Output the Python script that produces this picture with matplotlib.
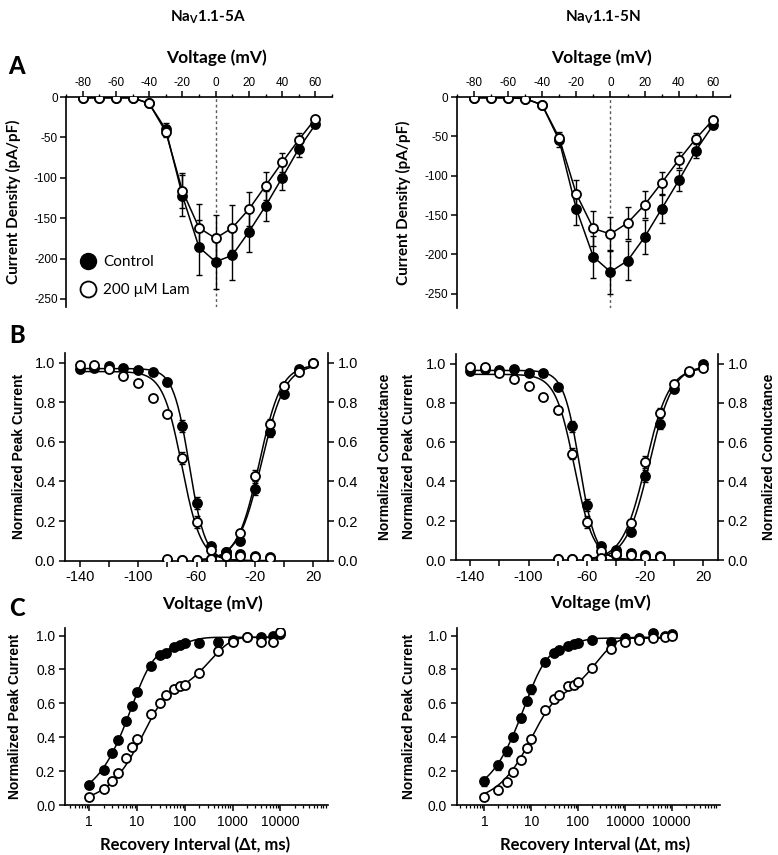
import numpy as np
import matplotlib
matplotlib.use("Agg")
import matplotlib.pyplot as plt
from matplotlib.lines import Line2D
from matplotlib.ticker import MultipleLocator, FixedLocator, FixedFormatter, LogLocator, NullFormatter

plt.rcParams['font.family'] = ['Liberation Sans', 'DejaVu Sans']
plt.rcParams['mathtext.fontset'] = 'custom'
plt.rcParams['mathtext.rm'] = 'Lato:bold'
plt.rcParams['mathtext.it'] = 'Lato:bold'
plt.rcParams['mathtext.bf'] = 'Lato:bold'

LAB = dict(family=['Lato', 'DejaVu Sans'], fontweight='bold')
ARIAL_B = dict(family=['Liberation Sans', 'DejaVu Sans'], fontweight='bold')

# ---------------- Panel A: current-voltage ----------------
iv_v = [-80, -70, -60, -50, -40, -30, -20, -10, 0, 10, 20, 30, 40, 50, 60]

iv_5a_ctrl = [-1, -1, -1, -1, -8, -40, -122, -186, -204, -196, -167, -135, -100, -64, -34]
iv_5a_ctrl_err = [0.5, 0.5, 0.5, 0.5, 1, 8, 25, 34, 34, 31, 25, 19, 15, 10, 4]
iv_5a_lam = [-1, -1, -1, -1, -8, -43, -116, -162, -175, -162, -139, -110, -81, -53, -27]
iv_5a_lam_err = [0.5, 0.5, 0.5, 0.5, 1, 7, 22, 29, 29, 28, 21, 17, 12, 8, 3]

iv_5n_ctrl = [-1, -1, -1, -2, -10, -55, -142, -203, -222, -208, -178, -142, -106, -68, -36]
iv_5n_ctrl_err = [0.5, 0.5, 0.5, 0.5, 1, 8, 21, 27, 28, 25, 22, 18, 13, 9, 4]
iv_5n_lam = [-1, -1, -1, -2, -10, -52, -123, -167, -174, -160, -137, -109, -80, -53, -29]
iv_5n_lam_err = [0.5, 0.5, 0.5, 0.5, 1, 7, 17, 22, 22, 20, 17, 14, 10, 7, 3]

# ---------------- Panel B: inactivation / activation ----------------
inact_v = [-140, -130, -120, -110, -100, -90, -80, -70, -60, -50, -40, -30, -20, -10]
act_v = [-80, -70, -60, -50, -40, -30, -20, -10, 0, 10, 20]

inact_5a_ctrl = [0.97, 0.975, 0.985, 0.975, 0.963, 0.954, 0.90, 0.68, 0.29, 0.075, 0.045, 0.035, 0.024, 0.018]
inact_5a_lam = [0.99, 0.988, 0.966, 0.93, 0.895, 0.82, 0.74, 0.52, 0.195, 0.054, 0.025, 0.024, 0.017, 0.015]
act_5a_ctrl = [0.004, 0.004, 0.005, 0.008, 0.046, 0.10, 0.36, 0.65, 0.84, 0.966, 1.0]
act_5a_lam = [0.007, 0.006, 0.006, 0.01, 0.025, 0.14, 0.43, 0.69, 0.88, 0.955, 1.0]

inact_5n_ctrl = [0.96, 0.97, 0.966, 0.97, 0.954, 0.95, 0.88, 0.68, 0.28, 0.07, 0.045, 0.034, 0.024, 0.02]
inact_5n_lam = [0.983, 0.98, 0.95, 0.92, 0.886, 0.83, 0.763, 0.542, 0.193, 0.048, 0.026, 0.026, 0.017, 0.014]
act_5n_ctrl = [0.003, 0.004, 0.005, 0.008, 0.05, 0.145, 0.426, 0.69, 0.872, 0.955, 1.0]
act_5n_lam = [0.003, 0.004, 0.005, 0.009, 0.03, 0.19, 0.5, 0.75, 0.895, 0.96, 0.975]

inact_err = [0.005, 0.005, 0.005, 0.008, 0.01, 0.012, 0.015, 0.03, 0.03, 0.01, 0.005, 0.005, 0.005, 0.005]
act_err = [0.002, 0.002, 0.002, 0.002, 0.005, 0.01, 0.03, 0.025, 0.015, 0.01, 0.005]

# Boltzmann fit parameters (amplitude, V1/2, slope)
fit_inact_5a_ctrl = (0.97, -65.0, 5.5)
fit_inact_5a_lam = (0.955, -70.0, 6.5)
fit_act_5a_ctrl = (0.99, -15.5, 8.0)
fit_act_5a_lam = (0.99, -17.0, 7.5)
fit_inact_5n_ctrl = (0.965, -65.0, 5.5)
fit_inact_5n_lam = (0.945, -68.5, 6.5)
fit_act_5n_ctrl = (0.99, -17.0, 8.0)
fit_act_5n_lam = (0.98, -19.5, 8.0)

# ---------------- Panel C: recovery from inactivation ----------------
rec_t = [1, 2, 3, 4, 6, 8, 10, 20, 30, 40, 60, 80, 100, 200, 500, 1000, 2000, 4000, 7000, 10000]

rec_5a_ctrl = [0.118, 0.207, 0.305, 0.384, 0.498, 0.585, 0.67, 0.82, 0.886, 0.90, 0.93, 0.945, 0.955,
               0.955, 0.96, 0.975, 0.99, 0.99, 1.0, 1.008]
rec_5a_lam = [0.05, 0.093, 0.144, 0.187, 0.276, 0.34, 0.388, 0.537, 0.60, 0.65, 0.683, 0.705, 0.71,
              0.78, 0.91, 0.965, 0.99, 0.965, 0.965, 1.02]
rec_5n_ctrl = [0.139, 0.234, 0.317, 0.40, 0.515, 0.614, 0.683, 0.846, 0.90, 0.915, 0.937, 0.95, 0.954,
               0.974, 0.964, 0.984, 0.985, 1.016, 0.995, 1.01]
rec_5n_lam = [0.046, 0.089, 0.135, 0.192, 0.267, 0.337, 0.39, 0.56, 0.624, 0.648, 0.703, 0.707, 0.727,
              0.806, 0.92, 0.96, 0.976, 0.984, 0.99, 0.996]
rec_5a_err = [0.01] * 20
rec_5n_err = [0.025, 0.025, 0.025, 0.025, 0.025, 0.025, 0.025, 0.015, 0.01, 0.01, 0.01, 0.01, 0.01,
              0.01, 0.01, 0.01, 0.01, 0.01, 0.01, 0.01]

# bi-exponential fit parameters (plateau, a1, tau1, a2, tau2)
fit_rec_5a_ctrl = (0.99, 0.85, 7.5, 0.12, 80.0)
fit_rec_5a_lam = (0.99, 0.62, 13.0, 0.365, 350.0)
fit_rec_5n_ctrl = (0.985, 0.82, 7.0, 0.125, 60.0)
fit_rec_5n_lam = (0.99, 0.58, 10.0, 0.40, 250.0)

c_tick_vals = [1, 10, 100, 1000, 10000]
c_ticklabels_5a = ["1", "10", "100", "1000", "10000"]
c_ticklabels_5n = ["1", "10", "100", "10000", "10000"]


def inact_curve(v, amp, vhalf, k):
    return amp / (1 + np.exp((v - vhalf) / k))


def act_curve(v, amp, vhalf, k):
    return amp / (1 + np.exp((vhalf - v) / k))


def rec_curve(t, c, a1, t1, a2, t2):
    return c - a1 * np.exp(-t / t1) - a2 * np.exp(-t / t2)


def pts(ax, x, y, err, filled, ms=6.5):
    ax.errorbar(x, y, yerr=err, fmt='none', ecolor='k', elinewidth=1.0, capsize=2.5, capthick=1.0, zorder=2)
    ax.plot(x, y, 'o', ms=ms, mfc='k' if filled else 'white', mec='k', mew=1.3,
            zorder=4 if not filled else 3, linestyle='none')


fig = plt.figure(figsize=(7.78, 8.55), dpi=100)
W, H = 778.0, 855.0


def box(x0, x1, ytop, ybot):
    return [x0 / W, 1 - ybot / H, (x1 - x0) / W, (ybot - ytop) / H]


# ---------- A ----------
def panel_a(rect, ctrl, cerr, lam, lerr, ybot, lab_x, xlab_x, legend=False):
    ax = fig.add_axes(rect)
    ax.plot(iv_v, ctrl, '-', color='k', lw=1.1, zorder=2)
    ax.plot(iv_v, lam, '-', color='k', lw=1.1, zorder=2)
    pts(ax, iv_v, ctrl, cerr, True)
    pts(ax, iv_v, lam, lerr, False)
    ax.axvline(0, color='0.35', ls=(0, (2, 2)), lw=1.0, zorder=1)
    ax.set_xlim(-90, 70)
    ax.set_ylim(ybot, 0)
    ax.xaxis.tick_top()
    ax.xaxis.set_label_position('top')
    ax.spines['bottom'].set_visible(False)
    ax.spines['right'].set_visible(False)
    ax.spines['top'].set_position(('data', 0))
    ax.xaxis.set_minor_locator(MultipleLocator(10))
    ax.set_yticks([-250, -200, -150, -100, -50, 0])
    ax.set_yticklabels(["-250", "-200", "-150", "-100", "-50", "0"])
    ax.set_xticks([-80, -60, -40, -20, 0, 20, 40, 60])
    ax.set_xticklabels(["-80", "-60", "-40", "-20", "0", "20", "40", "60"])
    ax.tick_params(axis='both', which='major', labelsize=8.5, length=4, width=1.1, direction='out', pad=2)
    ax.tick_params(axis='x', which='minor', length=2.5, width=1.0, direction='out')
    for s in ('left', 'top'):
        ax.spines[s].set_linewidth(1.2)
    ax.set_xlabel("Voltage (mV)", fontsize=12.5, **LAB)
    ax.xaxis.set_label_coords(xlab_x, 1.16)
    ax.set_ylabel("Current Density (pA/pF)", fontsize=11, **LAB)
    ax.yaxis.set_label_coords(lab_x, 0.5)
    if legend:
        h1 = Line2D([], [], marker='o', ms=11.5, mfc='k', mec='k', ls='none')
        h2 = Line2D([], [], marker='o', ms=11.5, mfc='white', mec='k', mew=1.3, ls='none')
        ax.legend([h1, h2], ["Control", "200 \u00b5M Lam"], loc='lower left', bbox_to_anchor=(-0.005, -0.02),
                  frameon=False, handletextpad=0.4, labelspacing=0.95, handlelength=1.2,
                  prop=dict(family=['Lato', 'DejaVu Sans'], size=11))
    return ax


panel_a(box(66, 332, 97, 307), iv_5a_ctrl, iv_5a_ctrl_err, iv_5a_lam, iv_5a_lam_err, -260,
        -0.17, 0.566, legend=True)
panel_a(box(456.7, 730, 97, 308), iv_5n_ctrl, iv_5n_ctrl_err, iv_5n_lam, iv_5n_lam_err, -268,
        -0.168, 0.53)


# ---------- B ----------
def panel_b(rect, ic, il, ac, al, fic, fil, fac, fal, lab_x, rlab_x, xlab_x):
    ax = fig.add_axes(rect)
    vi = np.linspace(-140, -10, 200)
    va = np.linspace(-60, 20, 200)
    for p in (fic, fil):
        ax.plot(vi, inact_curve(vi, *p), color='k', lw=1.1, zorder=2)
    for p in (fac, fal):
        ax.plot(va, act_curve(va, *p), color='k', lw=1.1, zorder=2)
    pts(ax, inact_v, ic, inact_err, True)
    pts(ax, act_v, ac, act_err, True)
    pts(ax, inact_v, il, inact_err, False)
    pts(ax, act_v, al, act_err, False)
    ax.set_xlim(-150, 30)
    ax.set_ylim(0, 1.05)
    ax.spines['top'].set_visible(False)
    ax.spines['right'].set_visible(False)
    ax.set_xticks([-140, -100, -60, -20, 20])
    ax.set_xticklabels(["-140", "-100", "-60", "-20", "20"])
    ax.xaxis.set_minor_locator(FixedLocator([-120, -80, -40, 0]))
    ax.set_yticks([0, 0.2, 0.4, 0.6, 0.8, 1.0])
    ax.set_yticklabels(["0.0", "0.2", "0.4", "0.6", "0.8", "1.0"])
    ax.tick_params(axis='both', which='major', labelsize=10.5, length=4, width=1.1, direction='out', pad=3)
    ax.tick_params(axis='x', which='minor', length=4, width=1.1, direction='out')
    for s in ('left', 'bottom'):
        ax.spines[s].set_linewidth(1.2)
    ax.set_ylabel("Normalized Peak Current", fontsize=10, **ARIAL_B)
    ax.yaxis.set_label_coords(lab_x, 0.5)
    ax.set_xlabel("Voltage (mV)", fontsize=12.5, **LAB)
    ax.xaxis.set_label_coords(xlab_x, -0.165)
    ax2 = ax.twinx()
    ax2.set_ylim(0, 1.05)
    for s in ('top', 'left', 'bottom'):
        ax2.spines[s].set_visible(False)
    ax2.spines['right'].set_linewidth(1.2)
    ax2.set_yticks([0, 0.2, 0.4, 0.6, 0.8, 1.0])
    ax2.set_yticklabels(["0.0", "0.2", "0.4", "0.6", "0.8", "1.0"])
    ax2.tick_params(axis='y', labelsize=10.5, length=4, width=1.1, direction='out', pad=3)
    ax2.set_ylabel("Normalized Conductance", fontsize=10, **ARIAL_B)
    ax2.yaxis.set_label_coords(rlab_x, 0.5)
    return ax


panel_b(box(65, 328, 352.7, 560.7), inact_5a_ctrl, inact_5a_lam, act_5a_ctrl, act_5a_lam,
        fit_inact_5a_ctrl, fit_inact_5a_lam, fit_act_5a_ctrl, fit_act_5a_lam, -0.15, 1.19, 0.56)
panel_b(box(455.7, 718, 353.7, 560), inact_5n_ctrl, inact_5n_lam, act_5n_ctrl, act_5n_lam,
        fit_inact_5n_ctrl, fit_inact_5n_lam, fit_act_5n_ctrl, fit_act_5n_lam, -0.153, 1.168, 0.553)


# ---------- C ----------
def panel_c(rect, ctrl, lam, cerr, fc, fl, xlim, ticklabels, lab_x, xlab_x):
    ax = fig.add_axes(rect)
    ax.set_xscale('log')
    t = np.logspace(0, 4, 300)
    ax.plot(t, rec_curve(t, *fc), color='k', lw=1.1, zorder=2)
    ax.plot(t, rec_curve(t, *fl), color='k', lw=1.1, zorder=2)
    pts(ax, rec_t, ctrl, cerr, True)
    pts(ax, rec_t, lam, [0.008] * len(rec_t), False)
    ax.set_xlim(*xlim)
    ax.set_ylim(0, 1.045)
    ax.spines['top'].set_visible(False)
    ax.spines['right'].set_visible(False)
    ax.xaxis.set_major_locator(FixedLocator(c_tick_vals))
    ax.xaxis.set_major_formatter(FixedFormatter(ticklabels))
    ax.xaxis.set_minor_locator(LogLocator(base=10, subs=np.arange(2, 10), numticks=20))
    ax.xaxis.set_minor_formatter(NullFormatter())
    ax.set_yticks([0, 0.2, 0.4, 0.6, 0.8, 1.0])
    ax.set_yticklabels(["0.0", "0.2", "0.4", "0.6", "0.8", "1.0"])
    ax.tick_params(axis='both', which='major', labelsize=10, length=4, width=1.1, direction='out', pad=3)
    ax.tick_params(axis='x', which='minor', length=2.5, width=0.9, direction='out')
    for s in ('left', 'bottom'):
        ax.spines[s].set_linewidth(1.2)
    ax.set_ylabel("Normalized Peak Current", fontsize=10, **ARIAL_B)
    ax.yaxis.set_label_coords(lab_x, 0.5)
    ax.set_xlabel("Recovery Interval (\u0394t, ms)", fontsize=12, **LAB)
    ax.xaxis.set_label_coords(xlab_x, -0.18)
    return ax


panel_c(box(65, 328, 628, 805), rec_5a_ctrl, rec_5a_lam, rec_5a_err, fit_rec_5a_ctrl, fit_rec_5a_lam,
        (0.31, 1e5), c_ticklabels_5a, -0.165, 0.494)
panel_c(box(456.7, 720, 628, 805), rec_5n_ctrl, rec_5n_lam, rec_5n_err, fit_rec_5n_ctrl, fit_rec_5n_lam,
        (0.257, 1.07e5), c_ticklabels_5n, -0.156, 0.525)

# headers and panel letters
fig.text(207.5 / W, 1 - 17 / H, r"Na$_\mathrm{V}$1.1-5A", ha='center', va='center', fontsize=11, **LAB)
fig.text(603 / W, 1 - 17 / H, r"Na$_\mathrm{V}$1.1-5N", ha='center', va='center', fontsize=11, **LAB)
for letter, yy in (("A", 67), ("B", 335), ("C", 608)):
    fig.text(17 / W, 1 - yy / H, letter, ha='center', va='center', fontsize=17,
             family=['Lato', 'DejaVu Sans'], fontweight='black')

fig.savefig("out.png", dpi=100)
